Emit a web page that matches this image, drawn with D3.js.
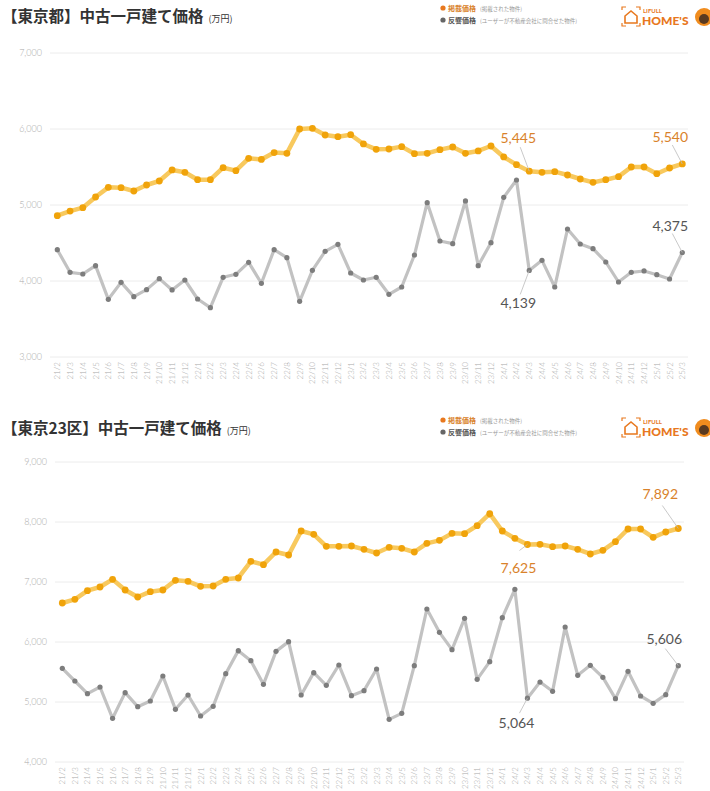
<!DOCTYPE html>
<html>
<head>
<meta charset="utf-8">
<script src="https://cdn.jsdelivr.net/npm/d3@7"></script>
<style>
  body { margin: 0; background: #fff; }
  svg { display: block; font-family: "Noto Sans CJK JP", "Noto Sans", sans-serif; }
</style>
</head>
<body>
<div id="graphic"></div>
<script>
// months 21/2 .. 25/3
var months = ["21/2","21/3","21/4","21/5","21/6","21/7","21/8","21/9","21/10","21/11","21/12",
  "22/1","22/2","22/3","22/4","22/5","22/6","22/7","22/8","22/9","22/10","22/11","22/12",
  "23/1","23/2","23/3","23/4","23/5","23/6","23/7","23/8","23/9","23/10","23/11","23/12",
  "24/1","24/2","24/3","24/4","24/5","24/6","24/7","24/8","24/9","24/10","24/11","24/12",
  "25/1","25/2","25/3"];

// 東京都
var tokyoListed = [4860,4920,4965,5105,5232,5228,5184,5263,5316,5461,5430,
  5333,5333,5491,5452,5614,5600,5690,5680,6000,6009,5921,5899,
  5925,5803,5732,5737,5768,5675,5680,5728,5763,5680,5711,5776,
  5632,5531,5445,5430,5439,5395,5342,5298,5333,5373,5500,5500,
  5412,5487,5540];
var tokyoInquiry = [4412,4114,4092,4202,3759,3982,3794,3886,4031,3882,4013,
  3763,3649,4049,4088,4246,3970,4412,4307,3732,4140,4391,4483,
  4105,4013,4049,3825,3921,4342,5030,4526,4491,5053,4202,4504,
  5101,5329,4139,4272,3921,4684,4487,4425,4250,3987,4114,4132,
  4083,4026,4375];
var tokyoTicks = [3000,4000,5000,6000,7000];

// 東京23区
var wardsListed = [6650,6711,6856,6917,7044,6867,6750,6839,6867,7028,7011,
  6928,6933,7044,7067,7344,7289,7500,7450,7850,7794,7594,7594,
  7600,7544,7483,7578,7561,7500,7644,7694,7811,7806,7939,8139,
  7850,7728,7625,7628,7589,7600,7544,7467,7528,7672,7883,7883,
  7744,7833,7892];
var wardsInquiry = [5561,5350,5139,5250,4728,5156,4922,5017,5433,4878,5117,
  4767,4928,5472,5856,5689,5294,5844,6006,5117,5489,5278,5617,
  5106,5189,5550,4711,4811,5606,6550,6161,5872,6394,5378,5672,
  6406,6878,5064,5333,5178,6250,5444,5611,5411,5056,5511,5100,
  4978,5122,5606];
var wardsTicks = [4000,5000,6000,7000,8000,9000];

var ORANGE_LINE = "#f8c95e", ORANGE_DOT = "#f0a30a", ORANGE_TEXT = "#d9822b";
var GRAY_LINE = "#c2c2c2", GRAY_DOT = "#7d7d7d", GRAY_TEXT = "#555";

var svg = d3.select("#graphic").append("svg")
  .attr("width", 710)
  .attr("height", 791);

function drawPanel(opt) {
  var g = svg.append("g");

  var x = d3.scalePoint().domain(months).range([opt.x0, opt.x1]);
  var y = d3.scaleLinear().domain(d3.extent(opt.ticks)).range([opt.yBottom, opt.yTop]);

  // title
  var title = g.append("text")
    .attr("x", 2).attr("y", opt.titleY)
    .attr("fill", "#333").attr("font-size", 15.5).attr("font-weight", 700)
    .text(opt.title);
  title.append("tspan").attr("font-size", 9).attr("font-weight", 400).attr("dx", 5).text("(万円)");

  // legend
  var lg = g.append("g").attr("transform", "translate(441," + opt.legendY + ")");
  [["掲載価格", "(掲載された物件)", ORANGE_TEXT, "#e8781e"],
   ["反響価格", "(ユーザーが不動産会社に問合せた物件)", "#555", "#666"]].forEach(function (d, i) {
    lg.append("circle").attr("cx", 2).attr("cy", i * 12).attr("r", 2.6).attr("fill", d[3]);
    var t = lg.append("text").attr("x", 7).attr("y", i * 12 + 2.5)
      .attr("font-size", 7).attr("font-weight", 700).attr("fill", d[2]).text(d[0]);
    t.append("tspan").attr("dx", 4).attr("font-size", 5.5).attr("font-weight", 400)
      .attr("fill", "#999").text(d[1]);
  });

  // logo
  var lo = g.append("g").attr("transform", "translate(622," + opt.logoY + ")");
  lo.append("path")
    .attr("d", "M3,9 L9,4 L15,9 L15,16 L3,16 Z")
    .attr("fill", "none").attr("stroke", "#e8781e").attr("stroke-width", 1.6);
  lo.append("path").attr("d", "M0,3 L0,0 L4,0 M14,0 L18,0 L18,3 M0,16 L0,19 L4,19 M14,19 L18,19 L18,16")
    .attr("fill", "none").attr("stroke", "#e8781e").attr("stroke-width", 1.2);
  lo.append("text").attr("x", 21).attr("y", 6).attr("font-size", 6).attr("font-weight", 700)
    .attr("fill", "#e8781e").attr("font-family", "Lato, sans-serif").text("LIFULL");
  lo.append("text").attr("x", 20).attr("y", 18).attr("font-size", 12).attr("font-weight", 900)
    .attr("fill", "#e8781e").attr("font-family", "Lato, sans-serif").text("HOME'S");
  lo.append("circle").attr("cx", 82).attr("cy", 10).attr("r", 9).attr("fill", "#f08c1e");
  lo.append("circle").attr("cx", 82).attr("cy", 12).attr("r", 5).attr("fill", "#5a3a20");

  // grid + y labels
  g.selectAll(".grid").data(opt.ticks).enter().append("line")
    .attr("x1", opt.gx0).attr("x2", opt.gx1)
    .attr("y1", function (d) { return y(d); }).attr("y2", function (d) { return y(d); })
    .attr("stroke", "#ececec").attr("stroke-width", 1);
  g.selectAll(".ylab").data(opt.ticks).enter().append("text")
    .attr("x", opt.gx0 - 8).attr("y", function (d) { return y(d) + 3; })
    .attr("text-anchor", "end").attr("font-size", 9).attr("fill", "#aaa")
    .attr("font-family", "Lato, sans-serif").attr("font-weight", 300)
    .text(d3.format(","));

  // x labels
  g.selectAll(".xlab").data(months).enter().append("text")
    .attr("transform", function (d) { return "translate(" + (x(d) + 3) + "," + (opt.yBottom + 5) + ") rotate(-90)"; })
    .attr("text-anchor", "end").attr("font-size", 8).attr("fill", "#aaa")
    .attr("font-family", "Lato, sans-serif").attr("font-weight", 300)
    .text(function (d) { return d; });

  var line = d3.line().x(function (d, i) { return x(months[i]); }).y(function (d) { return y(d); });

  // series
  [[opt.inquiry, GRAY_LINE, GRAY_DOT, 3.2, 2.6],
   [opt.listed, ORANGE_LINE, ORANGE_DOT, 4.5, 3.4]].forEach(function (s) {
    g.append("path").datum(s[0]).attr("d", line)
      .attr("fill", "none").attr("stroke", s[1]).attr("stroke-width", s[3])
      .attr("stroke-linejoin", "round");
    g.append("g").selectAll("circle").data(s[0]).enter().append("circle")
      .attr("cx", function (d, i) { return x(months[i]); })
      .attr("cy", function (d) { return y(d); })
      .attr("r", s[4]).attr("fill", s[2]);
  });

  // annotations
  opt.notes.forEach(function (n) {
    var vals = n.series === "listed" ? opt.listed : opt.inquiry;
    var px = x(months[n.i]), py = y(vals[n.i]);
    var color = n.series === "listed" ? ORANGE_TEXT : GRAY_TEXT;
    g.append("line")
      .attr("x1", px).attr("y1", py)
      .attr("x2", px + n.lx).attr("y2", py + n.ly)
      .attr("stroke", "#bbb").attr("stroke-width", 0.8);
    g.append("text")
      .attr("x", px + n.tx).attr("y", py + n.ty)
      .attr("text-anchor", "middle").attr("font-size", 14).attr("fill", color)
      .attr("font-family", "Lato, sans-serif")
      .text(d3.format(",")(vals[n.i]));
  });
}

drawPanel({
  title: "【東京都】中古一戸建て価格",
  titleY: 22, legendY: 8, logoY: 7,
  ticks: tokyoTicks, listed: tokyoListed, inquiry: tokyoInquiry,
  x0: 57.3, x1: 682.3, yTop: 53, yBottom: 357, gx0: 50, gx1: 688,
  notes: [
    { series: "listed", i: 37, lx: -9, ly: -24, tx: -11, ty: -28 },
    { series: "listed", i: 49, lx: -10, ly: -19, tx: -12, ty: -22 },
    { series: "inquiry", i: 37, lx: -9, ly: 24, tx: -11, ty: 38 },
    { series: "inquiry", i: 49, lx: -10, ly: -19, tx: -12, ty: -22 }
  ]
});

drawPanel({
  title: "【東京23区】中古一戸建て価格",
  titleY: 434, legendY: 420, logoY: 418,
  ticks: wardsTicks, listed: wardsListed, inquiry: wardsInquiry,
  x0: 62.3, x1: 678.3, yTop: 462, yBottom: 762, gx0: 55, gx1: 684,
  notes: [
    { series: "listed", i: 49, lx: -16, ly: -23, tx: -18, ty: -29 },
    { series: "listed", i: 37, lx: -8, ly: 6, tx: -9, ty: 28 },
    { series: "inquiry", i: 49, lx: -13, ly: -17, tx: -14, ty: -22 },
    { series: "inquiry", i: 37, lx: -8, ly: 15, tx: -11, ty: 30 }
  ]
});
</script>
</body>
</html>
